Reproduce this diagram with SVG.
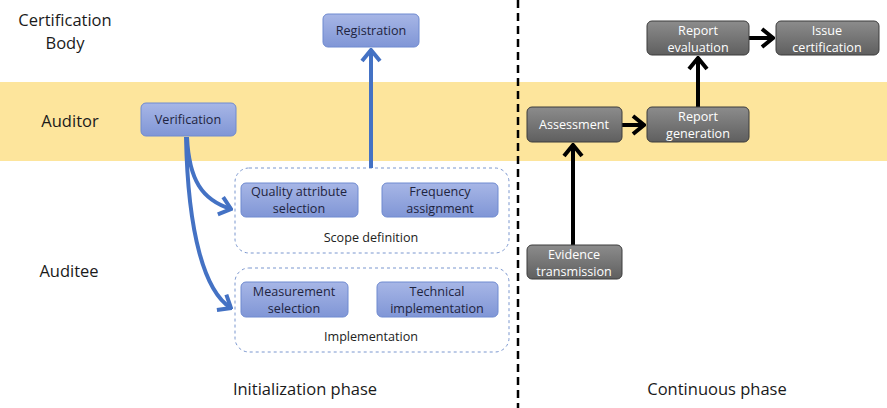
<svg xmlns="http://www.w3.org/2000/svg" width="887" height="408" viewBox="0 0 887 408">
  <defs>
    <linearGradient id="gBlue" x1="0" y1="0" x2="0" y2="1">
      <stop offset="0" stop-color="#a7b6e6"/>
      <stop offset="1" stop-color="#8096d6"/>
    </linearGradient>
    <linearGradient id="gGray" x1="0" y1="0" x2="0" y2="1">
      <stop offset="0" stop-color="#8c8c8c"/>
      <stop offset="1" stop-color="#5f5f5f"/>
    </linearGradient>
    <marker id="headBlue" viewBox="-14 -11 16 22" markerWidth="16" markerHeight="22" refX="0" refY="0" orient="auto" markerUnits="userSpaceOnUse">
      <path d="M-11,-9 L0,0 L-11,9" fill="none" stroke="#4472c4" stroke-width="4" stroke-linejoin="miter"/>
    </marker>
    <marker id="headBlack" viewBox="-14 -11 16 22" markerWidth="16" markerHeight="22" refX="0" refY="0" orient="auto" markerUnits="userSpaceOnUse">
      <path d="M-11,-9 L0,0 L-11,9" fill="none" stroke="#000" stroke-width="4" stroke-linejoin="miter"/>
    </marker>
  </defs>
  <style>
    .lane { font-family: "Open Sans", "Liberation Sans", sans-serif; font-size: 16.5px; fill: #1a1a1a; text-anchor: middle; }
    .phase { font-family: "Open Sans", "Liberation Sans", sans-serif; font-size: 16.5px; fill: #1a1a1a; text-anchor: middle; }
    .bbox { fill: url(#gBlue); stroke: #6f8ad0; stroke-width: 1; }
    .gbox { fill: url(#gGray); stroke: #3c3c3c; stroke-width: 1; }
    .bt { font-family: "Open Sans", "Liberation Sans", sans-serif; font-size: 12.6px; fill: #1e2440; text-anchor: middle; }
    .gt { font-family: "Open Sans", "Liberation Sans", sans-serif; font-size: 12.6px; fill: #ffffff; text-anchor: middle; }
    .group { fill: none; stroke: #7b97cf; stroke-width: 1; stroke-dasharray: 3 3; }
    .gl { font-family: "Open Sans", "Liberation Sans", sans-serif; font-size: 12.6px; fill: #222; text-anchor: middle; }
    .blue { fill: none; stroke: #4472c4; stroke-width: 4; marker-end: url(#headBlue); }
    .black { fill: none; stroke: #000; stroke-width: 4; marker-end: url(#headBlack); }
  </style>

  <!-- auditor swimlane band -->
  <rect x="0" y="82" width="887" height="79" fill="#fde59c"/>

  <!-- phase divider -->
  <line x1="518" y1="0" x2="518" y2="408" stroke="#000" stroke-width="2.5" stroke-dasharray="8 5"/>

  <!-- lane labels -->
  <text class="lane" x="65" y="26">Certification</text>
  <text class="lane" x="65" y="49">Body</text>
  <text class="lane" x="70" y="127">Auditor</text>
  <text class="lane" x="69" y="277">Auditee</text>

  <!-- phase labels -->
  <text class="phase" x="305" y="395">Initialization phase</text>
  <text class="phase" x="717" y="395">Continuous phase</text>

  <!-- grouping frames -->
  <g id="scope-definition">
    <rect class="group" x="235" y="168" width="274" height="85" rx="14"/>
    <text class="gl" x="371" y="242">Scope definition</text>
  </g>
  <g id="implementation">
    <rect class="group" x="235" y="268" width="274" height="84" rx="14"/>
    <text class="gl" x="371" y="341">Implementation</text>
  </g>

  <!-- connectors -->
  <g id="connectors">
    <path class="blue" d="M371,168 L371,50"/>
    <path class="blue" d="M187,137 C189,180 202,200 231,209"/>
    <path class="blue" d="M186,137 C188,235 205,292 231,308"/>
    <path class="black" d="M573,245 L573,145"/>
    <path class="black" d="M622,125 L644,125"/>
    <path class="black" d="M698,107 L698,58"/>
    <path class="black" d="M749,38 L773,38"/>
  </g>

  <!-- initialization phase nodes -->
  <g id="registration">
    <rect class="bbox" x="323" y="14" width="96" height="33" rx="5"/>
    <text class="bt" x="371" y="35">Registration</text>
  </g>
  <g id="verification">
    <rect class="bbox" x="141" y="103" width="95" height="33" rx="5"/>
    <text class="bt" x="188" y="124">Verification</text>
  </g>
  <g id="quality-attribute-selection">
    <rect class="bbox" x="241" y="183" width="117" height="34" rx="5"/>
    <text class="bt" x="299" y="196">Quality attribute</text>
    <text class="bt" x="299" y="213">selection</text>
  </g>
  <g id="frequency-assignment">
    <rect class="bbox" x="382" y="183" width="116" height="34" rx="5"/>
    <text class="bt" x="440" y="196">Frequency</text>
    <text class="bt" x="440" y="213">assignment</text>
  </g>
  <g id="measurement-selection">
    <rect class="bbox" x="241" y="282" width="107" height="35" rx="5"/>
    <text class="bt" x="294" y="296">Measurement</text>
    <text class="bt" x="294" y="313">selection</text>
  </g>
  <g id="technical-implementation">
    <rect class="bbox" x="377" y="282" width="121" height="35" rx="5"/>
    <text class="bt" x="437" y="296">Technical</text>
    <text class="bt" x="437" y="313">implementation</text>
  </g>

  <!-- continuous phase nodes -->
  <g id="assessment">
    <rect class="gbox" x="527" y="107" width="95" height="35" rx="5"/>
    <text class="gt" x="574" y="129">Assessment</text>
  </g>
  <g id="report-generation">
    <rect class="gbox" x="647" y="107" width="102" height="35" rx="5"/>
    <text class="gt" x="698" y="121">Report</text>
    <text class="gt" x="698" y="138">generation</text>
  </g>
  <g id="report-evaluation">
    <rect class="gbox" x="647" y="21" width="102" height="34" rx="5"/>
    <text class="gt" x="698" y="35">Report</text>
    <text class="gt" x="698" y="52">evaluation</text>
  </g>
  <g id="issue-certification">
    <rect class="gbox" x="776" y="21" width="103" height="34" rx="5"/>
    <text class="gt" x="827" y="35">Issue</text>
    <text class="gt" x="827" y="52">certification</text>
  </g>
  <g id="evidence-transmission">
    <rect class="gbox" x="527" y="245" width="95" height="34" rx="5"/>
    <text class="gt" x="574" y="259">Evidence</text>
    <text class="gt" x="574" y="276">transmission</text>
  </g>
</svg>
